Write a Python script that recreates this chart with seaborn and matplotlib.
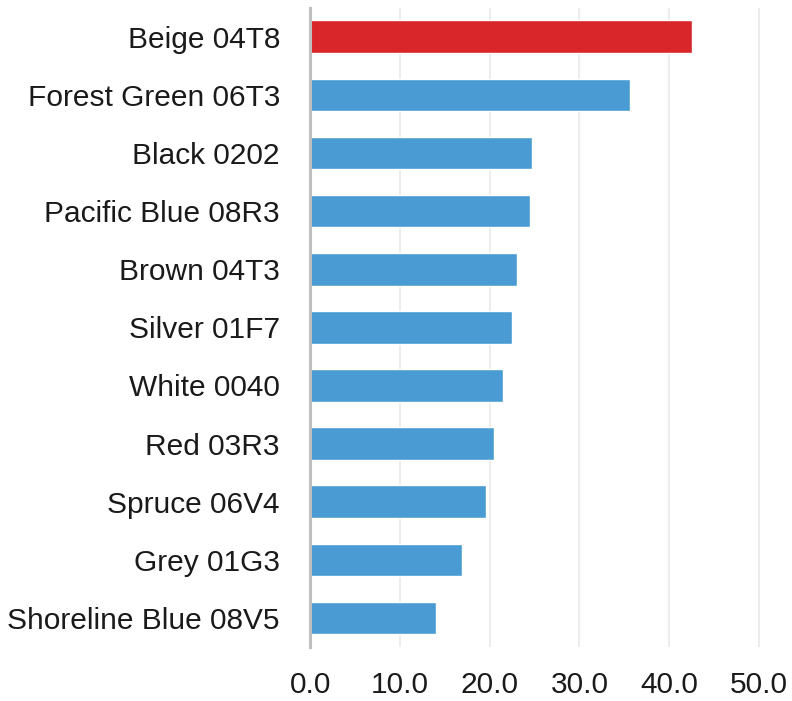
import matplotlib
matplotlib.use("Agg")
import matplotlib.pyplot as plt
import seaborn as sns
import pandas as pd

# data
colours = ["Beige 04T8", "Forest Green 06T3", "Black 0202", "Pacific Blue 08R3",
           "Brown 04T3", "Silver 01F7", "White 0040", "Red 03R3", "Spruce 06V4",
           "Grey 01G3", "Shoreline Blue 08V5"]
values = [42.6, 35.6, 24.7, 24.5, 23.0, 22.5, 21.5, 20.5, 19.6, 16.9, 14.0]
highlight = "Beige 04T8"
x_ticks = [0, 10, 20, 30, 40, 50]

df = pd.DataFrame({"colour": colours, "value": values})
palette = {c: ("#D9262A" if c == highlight else "#4A9BD3") for c in colours}

sns.set_style("white")
plt.rcParams["font.family"] = ["Liberation Sans", "DejaVu Sans"]

fig = plt.figure(figsize=(7.92, 7.01), dpi=100)
ax = fig.add_axes([0.392, 0.077, 0.567, 0.912])

sns.barplot(data=df, x="value", y="colour", hue="colour", palette=palette,
            order=colours, width=0.56, legend=False, saturation=1, ax=ax)

ax.set_xlim(0, 50.1)
ax.set_ylim(10.5, -0.5)
ax.set_xticks(x_ticks)
ax.set_xticklabels([f"{t:.1f}" for t in x_ticks])
ax.set_xlabel("")
ax.set_ylabel("")

ax.set_axisbelow(True)
ax.grid(axis="x", color="#EAEAEA", linewidth=1.3)
ax.grid(axis="y", visible=False)

for s in ["top", "right", "bottom"]:
    ax.spines[s].set_visible(False)
ax.spines["left"].set_color("#BFBFBF")
ax.spines["left"].set_linewidth(2.2)

ax.tick_params(axis="y", length=0, pad=22, labelsize=21.5, labelcolor="#1a1a1a")
ax.tick_params(axis="x", length=0, pad=17, labelsize=21.5, labelcolor="#1a1a1a")

fig.savefig("out.png", dpi=100)
